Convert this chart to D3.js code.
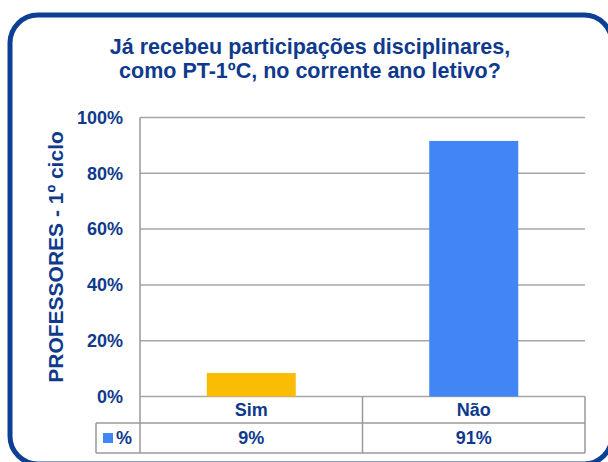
<!DOCTYPE html>
<html>
<head>
<meta charset="utf-8">
<script src="https://cdn.jsdelivr.net/npm/d3@7"></script>
<style>
  body { margin: 0; background: #fff; }
  svg { display: block; font-family: "Liberation Sans", Arial, sans-serif; }
</style>
</head>
<body>
<svg id="chart" width="608" height="462"></svg>
<script>
const categories = ["Sim", "Não"];
const values = [8.4, 91.6];
const tableLabels = ["9%", "91%"];
const barColors = ["#fbbc04", "#4285f4"];
const yTicks = [0, 20, 40, 60, 80, 100];
const titleLines = ["Já recebeu participações disciplinares,", "como PT-1ºC, no corrente ano letivo?"];
const yAxisTitle = "PROFESSORES - 1º ciclo";
const seriesName = "%";

const textColor = "#0f3a8c";
const gridColor = "#a6a6a6";

const svg = d3.select("#chart");

// frame
svg.append("rect")
  .attr("x", 10).attr("y", 15)
  .attr("width", 602).attr("height", 449)
  .attr("rx", 28).attr("ry", 28)
  .attr("fill", "#fff")
  .attr("stroke", "#0d3f95")
  .attr("stroke-width", 5);

// title, one text per line
svg.append("g")
  .selectAll("text")
  .data(titleLines)
  .join("text")
  .attr("x", 310)
  .attr("y", (d, i) => 54 + i * 23.5)
  .attr("text-anchor", "middle")
  .attr("fill", textColor)
  .style("font-size", "21.5px")
  .style("font-weight", "bold")
  .text(d => d);

const plotLeft = 140, plotRight = 585, plotTop = 117.5, plotBottom = 396.5;

const x = d3.scaleBand()
  .domain(categories)
  .range([plotLeft, plotRight])
  .paddingInner(0.6)
  .paddingOuter(0.3);

const y = d3.scaleLinear()
  .domain([0, 100])
  .range([plotBottom, plotTop]);

// gridlines
svg.append("g")
  .selectAll("line")
  .data(yTicks)
  .join("line")
  .attr("x1", plotLeft).attr("x2", plotRight)
  .attr("y1", d => y(d)).attr("y2", d => y(d))
  .attr("stroke", gridColor)
  .attr("stroke-width", 1.5);

// bars
svg.append("g")
  .selectAll("rect")
  .data(values)
  .join("rect")
  .attr("x", (d, i) => x(categories[i]))
  .attr("y", d => y(d))
  .attr("width", x.bandwidth())
  .attr("height", d => y(0) - y(d))
  .attr("fill", (d, i) => barColors[i]);

// y axis labels
const yAxis = d3.axisLeft(y)
  .tickValues(yTicks)
  .tickFormat(d => d + "%")
  .tickSize(0)
  .tickPadding(17);

const yg = svg.append("g")
  .attr("transform", `translate(${plotLeft},0)`)
  .call(yAxis);
yg.select(".domain").remove();
yg.selectAll("text")
  .attr("fill", textColor)
  .style("font-size", "18px")
  .style("font-weight", "bold")
  .style("font-family", "'Liberation Sans', Arial, sans-serif");

// y axis title
svg.append("text")
  .attr("transform", `translate(63,${(plotTop + plotBottom) / 2}) rotate(-90)`)
  .attr("text-anchor", "middle")
  .attr("fill", textColor)
  .style("font-size", "21px")
  .style("font-weight", "bold")
  .text(yAxisTitle);

// data table
const rowTop = plotBottom, rowMid = 423, rowBot = 453, legendLeft = 96;
const table = svg.append("g")
  .attr("stroke", "#999")
  .attr("stroke-width", 1.5)
  .attr("fill", "none");

table.append("line").attr("x1", plotLeft).attr("x2", plotLeft).attr("y1", plotTop).attr("y2", rowBot);
table.append("line").attr("x1", legendLeft).attr("x2", plotRight).attr("y1", rowMid).attr("y2", rowMid);
table.append("line").attr("x1", legendLeft).attr("x2", plotRight).attr("y1", rowBot).attr("y2", rowBot);
table.append("line").attr("x1", legendLeft).attr("x2", legendLeft).attr("y1", rowMid).attr("y2", rowBot);
table.append("line").attr("x1", plotRight).attr("x2", plotRight).attr("y1", rowTop).attr("y2", rowBot);
table.selectAll(".sep")
  .data(categories.slice(1))
  .join("line")
  .attr("x1", d => x(d) - x.step() * x.paddingInner() / 2)
  .attr("x2", d => x(d) - x.step() * x.paddingInner() / 2)
  .attr("y1", rowTop).attr("y2", rowBot);

svg.append("g")
  .selectAll("text")
  .data(categories)
  .join("text")
  .attr("x", d => x(d) + x.bandwidth() / 2)
  .attr("y", 416)
  .attr("text-anchor", "middle")
  .attr("fill", textColor)
  .style("font-size", "18px")
  .style("font-weight", "bold")
  .text(d => d);

svg.append("g")
  .selectAll("text")
  .data(tableLabels)
  .join("text")
  .attr("x", (d, i) => x(categories[i]) + x.bandwidth() / 2)
  .attr("y", 444)
  .attr("text-anchor", "middle")
  .attr("fill", textColor)
  .style("font-size", "18px")
  .style("font-weight", "bold")
  .text(d => d);

// legend key
svg.append("rect")
  .attr("x", 103).attr("y", 433)
  .attr("width", 10).attr("height", 10)
  .attr("fill", barColors[1]);
svg.append("text")
  .attr("x", 116).attr("y", 444)
  .attr("fill", textColor)
  .style("font-size", "18px")
  .style("font-weight", "bold")
  .text(seriesName);
</script>
</body>
</html>
